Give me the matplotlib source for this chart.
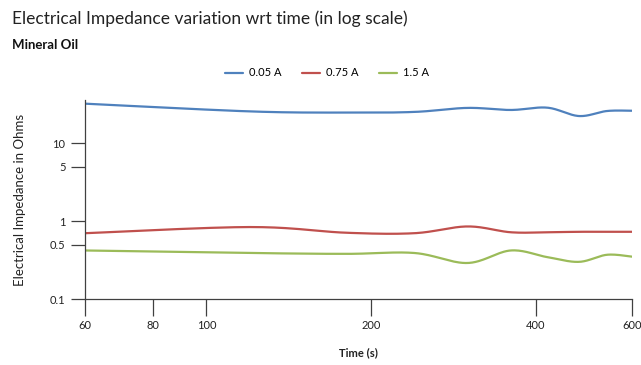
import numpy as np
import matplotlib.pyplot as plt
from matplotlib.ticker import FixedLocator, FixedFormatter, NullLocator

# data (time in s, impedance in ohms)
time_s = [60, 120, 180, 240, 300, 360, 420, 480, 540, 600]
z_005 = [32.3, 25.7, 24.8, 25.3, 28.5, 26.8, 28.7, 22.4, 26.0, 26.2]
z_075 = [0.70, 0.84, 0.71, 0.70, 0.855, 0.72, 0.72, 0.73, 0.73, 0.73]
z_15 = [0.42, 0.39, 0.38, 0.39, 0.29, 0.42, 0.345, 0.30, 0.37, 0.35]

labels = ['0.05 A', '0.75 A', '1.5 A']
colors = ['#4F81BD', '#C0504D', '#9BBB59']
xticks = [60, 80, 100, 200, 400, 600]
yticks = [0.1, 0.5, 1, 5, 10]

plt.rcParams['font.family'] = ['Lato', 'DejaVu Sans']


def smooth(x, y, n=30):
    """Catmull-Rom smoothing in log-log space, like a spreadsheet smoothed line."""
    lx, ly = np.log10(x), np.log10(y)
    px = np.concatenate([[lx[0]], lx, [lx[-1]]])
    py = np.concatenate([[ly[0]], ly, [ly[-1]]])
    outx, outy = [], []
    for i in range(1, len(px) - 2):
        p0, p1, p2, p3 = [np.array([px[j], py[j]]) for j in (i - 1, i, i + 1, i + 2)]
        c1 = p1 + (p2 - p0) / 6
        c2 = p2 - (p3 - p1) / 6
        t = np.linspace(0, 1, n)[:, None]
        b = ((1 - t) ** 3 * p1 + 3 * (1 - t) ** 2 * t * c1
             + 3 * (1 - t) * t ** 2 * c2 + t ** 3 * p2)
        outx.append(b[:, 0])
        outy.append(b[:, 1])
    return 10 ** np.concatenate(outx), 10 ** np.concatenate(outy)


fig = plt.figure(figsize=(6.41, 3.65), dpi=100)
ax = fig.add_axes([85 / 641, 66 / 365, 547 / 641, 199 / 365])

for ys, lab, col in zip((z_005, z_075, z_15), labels, colors):
    sx, sy = smooth(np.array(time_s, float), np.array(ys, float))
    ax.plot(sx, sy, color=col, lw=1.6, label=lab, solid_capstyle='round')

ax.set_xscale('log')
ax.set_yscale('log')
ax.set_xlim(60, 600)
ax.set_ylim(0.1, 36)
ax.xaxis.set_major_locator(FixedLocator(xticks))
ax.xaxis.set_major_formatter(FixedFormatter([str(v) for v in xticks]))
ax.xaxis.set_minor_locator(NullLocator())
ax.yaxis.set_major_locator(FixedLocator(yticks))
ax.yaxis.set_major_formatter(FixedFormatter(['0.1', '0.5', '1', '5', '10']))
ax.yaxis.set_minor_locator(NullLocator())

for s in ('top', 'right'):
    ax.spines[s].set_visible(False)
for s in ('left', 'bottom'):
    ax.spines[s].set_color('#404040')
    ax.spines[s].set_linewidth(0.9)
ax.tick_params(axis='x', length=12, width=0.9, color='#404040', labelsize=8,
               pad=3, labelcolor='#222222')
ax.tick_params(axis='y', length=10, width=0.9, color='#404040', labelsize=8,
               pad=4, labelcolor='#222222')

ax.set_xlabel('Time (s)', fontsize=8, fontweight='bold', labelpad=12, color='#222222')
ax.set_ylabel('Electrical Impedance in Ohms', fontsize=9.5, labelpad=17, color='#222222')

fig.text(12 / 641, 1 - 19 / 365, 'Electrical Impedance variation wrt time (in log scale)',
         fontsize=12.5, va='center', ha='left', color='#222222')
fig.text(12 / 641, 1 - 45 / 365, 'Mineral Oil', fontsize=9.5, fontweight='bold',
         va='center', ha='left', color='#111111')

fig.legend(loc='center', bbox_to_anchor=(327 / 641, 1 - 73 / 365), ncol=3,
           frameon=False, fontsize=8, handlelength=1.6, columnspacing=1.8,
           handletextpad=0.6)

fig.savefig('out.png', dpi=100)
